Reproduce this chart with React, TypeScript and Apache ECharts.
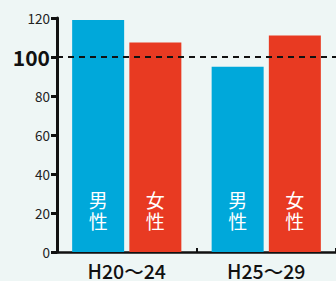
import React, { useEffect, useRef } from "react";
import * as echarts from "echarts";

const categories = ["H20～24", "H25～29"];
const maleValues = [119, 95];
const femaleValues = [107.5, 111];
const barLabels = ["男\n性", "女\n性"];
const yTicks = [0, 20, 40, 60, 80, 100, 120];

export default function App() {
  const ref = useRef<HTMLDivElement>(null);
  useEffect(() => {
    document.body.style.margin = "0";
    const chart = echarts.init(ref.current!, null, { renderer: "svg" });
    const font = "'Noto Sans CJK JP', 'Noto Sans', sans-serif";
    const barLabel = (text: string) => ({
      show: true,
      position: "insideBottom",
      distance: 21,
      formatter: text,
      color: "#ffffff",
      fontSize: 19,
      lineHeight: 21,
      textBorderWidth: 0,
      textShadowBlur: 0,
      fontFamily: font,
    });
    chart.setOption({
      animation: false,
      backgroundColor: "#EEF6F5",
      grid: { left: 57, right: -5, top: 18, bottom: 29, containLabel: false },
      xAxis: {
        type: "category",
        data: categories,
        axisLine: { lineStyle: { color: "#111", width: 2.5 } },
        axisTick: { show: true, inside: true, length: 4, lineStyle: { color: "#111", width: 2 } },
        axisLabel: { color: "#111", fontSize: 19.5, lineHeight: 20, fontFamily: font, fontWeight: 500, margin: 8 },
      },
      yAxis: {
        type: "value",
        min: yTicks[0],
        max: yTicks[yTicks.length - 1],
        interval: 20,
        axisLine: { show: true, lineStyle: { color: "#111", width: 3 } },
        axisTick: { show: true, length: 6, lineStyle: { color: "#111", width: 3 } },
        splitLine: { show: false },
        axisLabel: {
          margin: 7,
          color: "#222",
          fontSize: 13.5,
          fontFamily: font,
          formatter: (v: number) => (v === 100 ? "{b|100}" : String(v)),
          rich: { b: { fontSize: 21, fontWeight: "bold", color: "#111", fontFamily: font } },
        },
      },
      series: [
        {
          type: "bar",
          data: maleValues,
          barWidth: 52,
          barGap: "10%",
          itemStyle: { color: "#00A8DA" },
          label: barLabel(barLabels[0]),
          markLine: {
            silent: true,
            symbol: "none",
            label: { show: false },
            lineStyle: { color: "#111", type: [6, 5], width: 2 },
            data: [{ yAxis: 100 }],
            z: 10,
          },
        },
        {
          type: "bar",
          data: femaleValues,
          barWidth: 52,
          barGap: "10%",
          itemStyle: { color: "#E83A22" },
          label: barLabel(barLabels[1]),
        },
      ],
    });
    return () => chart.dispose();
  }, []);
  return <div ref={ref} style={{ width: 336, height: 281 }} />;
}
